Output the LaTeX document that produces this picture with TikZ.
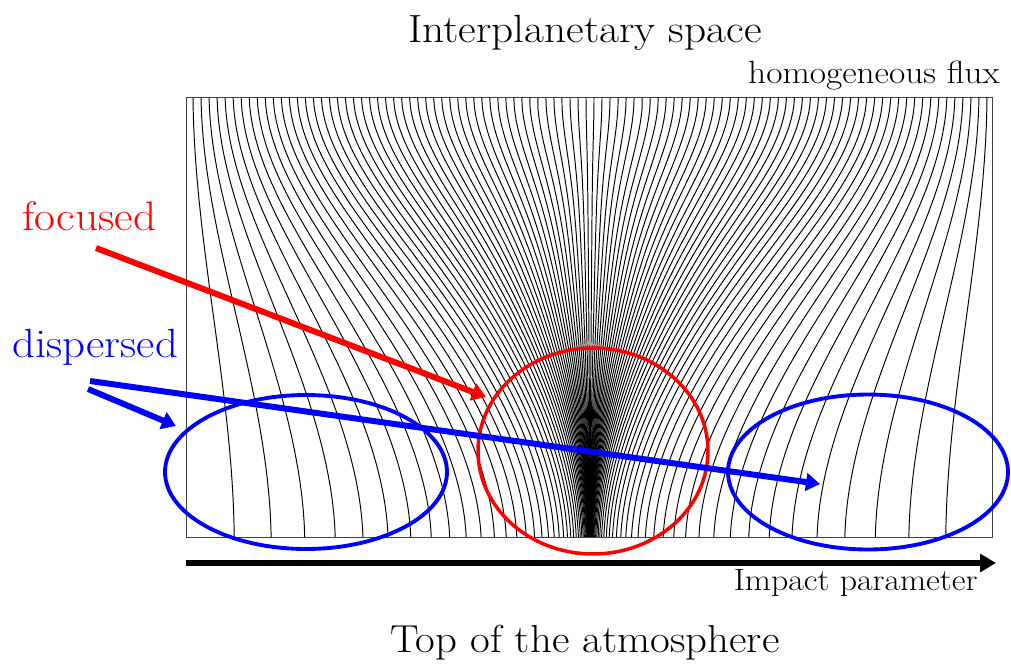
\documentclass[tikz,border=0pt]{standalone}
\usepackage{graphicx}
\usetikzlibrary{arrows.meta,shapes.geometric}
\begin{document}
\begin{tikzpicture}[x=0.02cm,y=-0.02cm,
  fieldline/.style={line width=0.55pt, black},
  frame/.style={draw=black!75, line width=0.6pt},
  zone/.style={draw, shape=ellipse, inner sep=0pt, line width=2.2pt},
  pointer/.style={line width=3.4pt, -{Triangle[length=8pt,width=10pt]}},
  lbl/.style={inner sep=0pt, anchor=base},
  declare function={
    sst(\t)=3*\t*\t-2*\t*\t*\t;
    offs(\u,\t)=0.4*397*(1-0.103*sst(\t))*(0.85*pow(\u,1+4.8*sst(\t))+0.15*pow(\u,1+2*sst(\t)))
      +0.6*(397*\u+(356*(0.85*pow(\u,5.8)+0.15*pow(\u,3))-397*\u)*(0.85*sst(\t)+0.15*\t));
  },
]
\useasboundingbox (0,0) rectangle (1011,667);
% field lines
\foreach \k in {1,...,50}{
  \pgfmathsetmacro{\u}{(\k-0.5)*8.02/397}
  \draw[fieldline] plot[domain=0:1,samples=44,variable=\t,smooth]
    ({590-offs(\u,\t)},{97+441*\t});
  \draw[fieldline] plot[domain=0:1,samples=44,variable=\t,smooth]
    ({590+offs(\u,\t)},{97+441*\t});
}
\node[frame, inner sep=0pt, minimum width=16.14cm, minimum height=8.82cm] (box) at (589.5,317.5) {};
% titles
\node[lbl] (top) at (585,42) {\scalebox{1.1}[1]{\fontsize{22.4}{26}\selectfont Interplanetary space}};
\node[lbl, anchor=base east] (flux) at (1000,83) {\scalebox{1.1}[1]{\fontsize{18.3}{20}\selectfont homogeneous flux}};
\node[lbl] (bottom) at (585,652) {\scalebox{1.1}[1]{\fontsize{22.2}{26}\selectfont Top of the atmosphere}};
\node[lbl, anchor=base east] (impact) at (978,590) {\scalebox{1.1}[1]{\fontsize{17.5}{20}\selectfont Impact parameter}};
\node[lbl, anchor=base west, text=red] (focused) at (22,230) {\scalebox{1.1}[1]{\fontsize{23.5}{26}\selectfont focused}};
\node[lbl, anchor=base west, text=blue] (dispersed) at (12,357) {\scalebox{1.1}[1]{\fontsize{23.2}{26}\selectfont dispersed}};
% zones
\node[zone, draw=red, line width=2pt, minimum width=4.6cm, minimum height=4.12cm] (focus) at (593,451) {};
\node[zone, draw=blue, minimum width=5.64cm, minimum height=3.08cm] (leftz) at (306,472) {};
\node[zone, draw=blue, minimum width=5.6cm, minimum height=3.1cm] (rightz) at (868,472) {};
% arrows
\coordinate (fs) at (96,248);
\coordinate (ft) at (486,397);
\coordinate (ds1) at (90,381);
\coordinate (dt1) at (820,484);
\coordinate (ds2) at (88,389);
\coordinate (dt2) at (176,426);
\coordinate (ax0) at (186,563);
\coordinate (ax1) at (996,563);
\draw[pointer, red] (fs) -- (ft);
\draw[pointer, blue] (ds1) -- (dt1);
\draw[pointer, blue] (ds2) -- (dt2);
\draw[line width=3pt, -{Triangle[length=9pt,width=10pt]}] (ax0) -- (ax1);
\end{tikzpicture}
\end{document}
